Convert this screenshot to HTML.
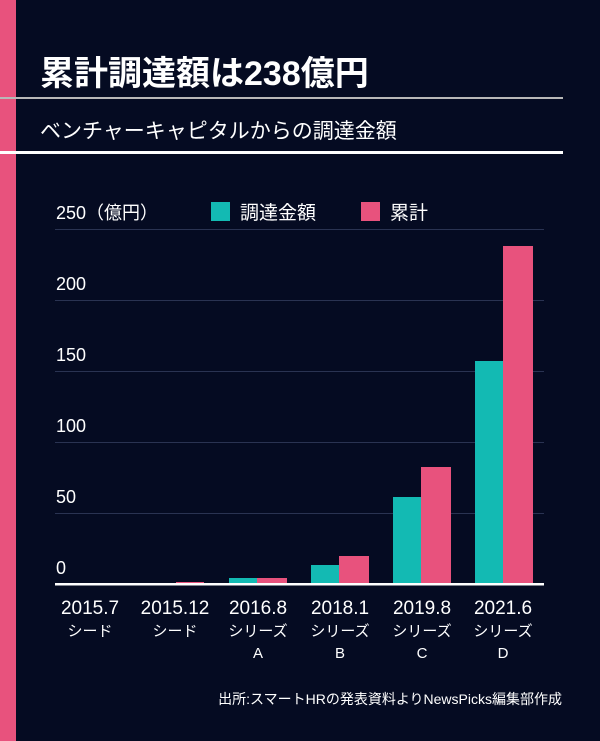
<!DOCTYPE html>
<html><head><meta charset="utf-8"><style>
body{margin:0;width:600px;height:741px;background:#050b22;overflow:hidden;font-family:"Liberation Sans","Noto Sans CJK JP",sans-serif;color:#fff}
</style></head><body>
<svg width="600" height="741" xmlns="http://www.w3.org/2000/svg" style="position:absolute;left:0;top:0" font-family="'Liberation Sans','Noto Sans CJK JP',sans-serif">
<rect x="0" y="0" width="600" height="741" fill="#050b22"/>
<rect x="0" y="0" width="16" height="741" fill="#e8527d"/>
<text x="40" y="85" font-size="34" font-weight="bold" fill="#fff">累計調達額は238億円</text>
<rect x="0" y="97" width="563" height="2" fill="#b8b8b8"/>
<text x="40" y="138" font-size="21" fill="#fff">ベンチャーキャピタルからの調達金額</text>
<rect x="0" y="151" width="563" height="3" fill="#fff"/>
<g stroke="#2a3352" stroke-width="1">
<line x1="55" y1="229.5" x2="544" y2="229.5"/>
<line x1="55" y1="300.5" x2="544" y2="300.5"/>
<line x1="55" y1="371.5" x2="544" y2="371.5"/>
<line x1="55" y1="442.5" x2="544" y2="442.5"/>
<line x1="55" y1="513.5" x2="544" y2="513.5"/>
</g>
<g font-size="18" fill="#fff">
<text x="56" y="219">250（億円）</text>
<text x="56" y="290">200</text>
<text x="56" y="361">150</text>
<text x="56" y="432">100</text>
<text x="56" y="503">50</text>
<text x="56" y="574">0</text>
</g>
<rect x="211" y="202" width="19" height="19" fill="#13bab3"/>
<text x="240" y="219" font-size="19" fill="#fff">調達金額</text>
<rect x="361" y="202" width="19" height="19" fill="#e8527d"/>
<text x="390" y="219" font-size="19" fill="#fff">累計</text>
<g fill="#13bab3">
<rect x="229" y="578" width="28" height="6"/>
<rect x="311" y="565" width="28" height="19"/>
<rect x="393" y="497" width="28" height="87"/>
<rect x="475" y="361" width="28" height="223"/>
</g>
<g fill="#e8527d">
<rect x="176" y="582" width="28" height="2"/>
<rect x="257" y="578" width="30" height="6"/>
<rect x="339" y="556" width="30" height="28"/>
<rect x="421" y="467" width="30" height="117"/>
<rect x="503" y="246" width="30" height="338"/>
</g>
<rect x="55" y="583" width="489" height="2.5" fill="#fff"/>
<g font-size="19" fill="#fff" text-anchor="middle">
<text x="90" y="614">2015.7</text>
<text x="175" y="614">2015.12</text>
<text x="258" y="614">2016.8</text>
<text x="340" y="614">2018.1</text>
<text x="422" y="614">2019.8</text>
<text x="503" y="614">2021.6</text>
</g>
<g font-size="15" fill="#fff" text-anchor="middle">
<text x="90" y="636">シード</text>
<text x="175" y="636">シード</text>
<text x="258" y="636">シリーズ</text>
<text x="340" y="636">シリーズ</text>
<text x="422" y="636">シリーズ</text>
<text x="503" y="636">シリーズ</text>
<text x="258" y="658">A</text>
<text x="340" y="658">B</text>
<text x="422" y="658">C</text>
<text x="503" y="658">D</text>
</g>
<text x="562" y="704" font-size="14" fill="#fff" text-anchor="end">出所:スマートHRの発表資料よりNewsPicks編集部作成</text>
</svg>
</body></html>
